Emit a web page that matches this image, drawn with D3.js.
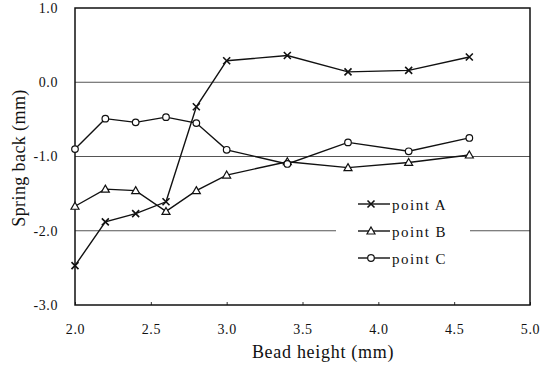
<!DOCTYPE html>
<html>
<head>
<meta charset="utf-8">
<script src="https://cdn.jsdelivr.net/npm/d3@7"></script>
<style>
  body { margin: 0; background: #fff; }
  text { font-family: "Liberation Serif", "DejaVu Serif", serif; fill: #111; }
</style>
</head>
<body>
<div id="chart"></div>
<script>
// bead height values (mm)
const beadHeight = [2.0, 2.2, 2.4, 2.6, 2.8, 3.0, 3.4, 3.8, 4.2, 4.6];
// spring back (mm) per measuring point
const pointA = [-2.47, -1.88, -1.77, -1.61, -0.33, 0.29, 0.36, 0.14, 0.16, 0.34];
const pointB = [-1.67, -1.44, -1.46, -1.74, -1.46, -1.25, -1.07, -1.15, -1.08, -0.98];
const pointC = [-0.90, -0.49, -0.54, -0.47, -0.55, -0.91, -1.10, -0.81, -0.93, -0.75];
const seriesNames = ['point A', 'point B', 'point C'];
const xTicks = [2.0, 2.5, 3.0, 3.5, 4.0, 4.5, 5.0];
const yTicks = [1.0, 0.0, -1.0, -2.0, -3.0];
const gridValues = [0.0, -1.0, -2.0];

const width = 545, height = 365;
const margin = { top: 8, right: 15, bottom: 60, left: 75 };

const svg = d3.select('#chart').append('svg')
  .attr('width', width)
  .attr('height', height);

const x = d3.scaleLinear().domain([2, 5]).range([margin.left, width - margin.right]);
const y = d3.scaleLinear().domain([-3, 1]).range([height - margin.bottom, margin.top]);

// grid lines
svg.append('g')
  .selectAll('line')
  .data(gridValues)
  .enter().append('line')
  .attr('x1', x(2)).attr('x2', x(5))
  .attr('y1', d => y(d)).attr('y2', d => y(d))
  .attr('stroke', '#555')
  .attr('stroke-width', 1);

// legend background hides part of the grid
const legendX = 358, legendY = 204, legendStep = 27;
svg.append('rect')
  .attr('x', 336).attr('y', legendY - 12)
  .attr('width', 134).attr('height', legendStep * 2 + 24)
  .attr('fill', '#fff');

// axes
const xAxis = d3.axisBottom(x).tickValues(xTicks).tickSize(-3).tickFormat(d3.format('.1f'));
const yAxis = d3.axisLeft(y).tickValues(yTicks).tickSize(0).tickFormat(d3.format('.1f'));

const gx = svg.append('g')
  .attr('transform', `translate(0,${y(-3)})`)
  .call(xAxis);
gx.select('.domain').remove();
gx.selectAll('.tick line').attr('stroke', '#333');
gx.selectAll('.tick text')
  .attr('y', 19)
  .style('font-size', '14px')
  .style('letter-spacing', '0.6px')
  .style('font-family', '"Liberation Serif", serif');

const gy = svg.append('g')
  .attr('transform', `translate(${margin.left},0)`)
  .call(yAxis);
gy.select('.domain').remove();
gy.selectAll('.tick text')
  .attr('x', -17)
  .text(d => d3.format('.1f')(d).replace('\u2212', '-'))
  .style('font-size', '14px')
  .style('letter-spacing', '0.6px')
  .style('font-family', '"Liberation Serif", serif');

// frame
svg.append('rect')
  .attr('x', x(2)).attr('y', y(1))
  .attr('width', x(5) - x(2)).attr('height', y(-3) - y(1))
  .attr('fill', 'none')
  .attr('stroke', '#111')
  .attr('stroke-width', 1.5);

// axis titles
svg.append('text')
  .attr('x', 323)
  .attr('y', 358)
  .attr('text-anchor', 'middle')
  .style('font-size', '18px')
  .style('letter-spacing', '0.7px')
  .text('Bead height (mm)');

svg.append('text')
  .attr('transform', `translate(25,158) rotate(-90)`)
  .attr('text-anchor', 'middle')
  .style('font-size', '18px')
  .style('letter-spacing', '0.4px')
  .text('Spring back (mm)');

const line = d3.line().x(d => x(d[0])).y(d => y(d[1]));

function drawMarker(g, type, cx, cy) {
  if (type === 'cross') {
    const s = 3.5;
    g.append('path')
      .attr('d', `M${cx - s},${cy - s}L${cx + s},${cy + s}M${cx - s},${cy + s}L${cx + s},${cy - s}`)
      .attr('stroke', '#111').attr('stroke-width', 1.6).attr('fill', 'none');
  } else if (type === 'triangle') {
    const s = 4;
    g.append('path')
      .attr('d', `M${cx},${cy - s}L${cx + s},${cy + s * 0.75}L${cx - s},${cy + s * 0.75}Z`)
      .attr('stroke', '#111').attr('stroke-width', 1.2).attr('fill', '#fff');
  } else {
    g.append('circle')
      .attr('cx', cx).attr('cy', cy).attr('r', 3.3)
      .attr('stroke', '#111').attr('stroke-width', 1.2).attr('fill', '#fff');
  }
}

const series = [
  { name: seriesNames[0], values: pointA, marker: 'cross' },
  { name: seriesNames[1], values: pointB, marker: 'triangle' },
  { name: seriesNames[2], values: pointC, marker: 'circle' }
];

series.forEach(s => {
  const pts = beadHeight.map((b, i) => [b, s.values[i]]);
  const g = svg.append('g');
  g.append('path')
    .attr('d', line(pts))
    .attr('fill', 'none')
    .attr('stroke', '#111')
    .attr('stroke-width', 1.4);
  pts.forEach(p => drawMarker(g, s.marker, x(p[0]), y(p[1])));
});

// legend
series.forEach((s, i) => {
  const ly = legendY + i * legendStep;
  const g = svg.append('g');
  g.append('line')
    .attr('x1', legendX).attr('x2', legendX + 32)
    .attr('y1', ly).attr('y2', ly)
    .attr('stroke', '#111').attr('stroke-width', 1.4);
  drawMarker(g, s.marker, legendX + 13, ly);
  g.append('text')
    .attr('x', legendX + 34)
    .attr('y', ly + 6)
    .style('font-size', '15px')
    .style('letter-spacing', '1.5px')
    .text(s.name);
});
</script>
</body>
</html>
